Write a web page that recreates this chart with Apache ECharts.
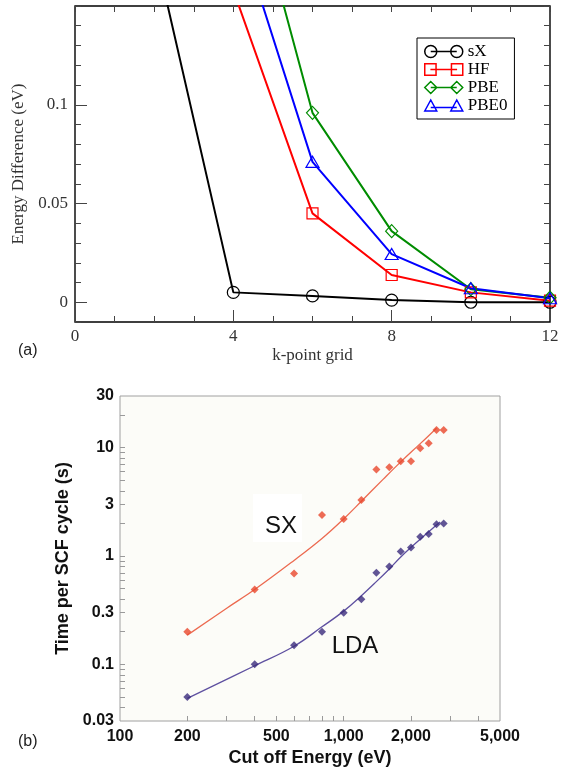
<!DOCTYPE html>
<html>
<head>
<meta charset="utf-8">
<script src="https://cdn.jsdelivr.net/npm/echarts@6/dist/echarts.min.js"></script>
<style>
html,body{margin:0;padding:0;background:#ffffff;}
#c{width:572px;height:773px;}
</style>
</head>
<body>
<div id="c"></div>
<script>
// ---------- Panel (a): k-point convergence ----------
const kPointsSX = [2, 4, 6, 8, 10, 12];
const energySX = [0.18, 0.005, 0.0032, 0.0011, 0.0, 0.0];
const kPoints = [4, 6, 8, 10, 12];
const energyHF = [0.158, 0.045, 0.0138, 0.005, 0.0008];
const energyPBE = [0.245, 0.0959, 0.036, 0.0066, 0.0023];
const energyPBE0 = [0.197, 0.0711, 0.0244, 0.0071, 0.002];
const aXLabels = [0, 4, 8, 12];
const aYLabels = [0, 0.05, 0.1];

// ---------- Panel (b): time per SCF cycle ----------
const cutoffEnergy = [200, 400, 600, 800, 1000, 1200, 1400, 1600, 1800, 2000, 2200, 2400, 2600, 2800];
const timeSX = [0.2, 0.49, 0.69, 2.39, 2.2, 3.29, 6.3, 6.6, 7.5, 7.5, 9.9, 11.0, 14.6, 14.6];
const timeLDA = [0.05, 0.1, 0.15, 0.2, 0.3, 0.4, 0.7, 0.8, 1.1, 1.2, 1.51, 1.6, 1.96, 2.0];
const fitSXEnergy = [200, 300, 400, 600, 800, 1000, 1200, 1500, 1800, 2200, 2600];
const fitSXTime = [0.186, 0.33, 0.49, 0.91, 1.45, 2.2, 3.2, 5.1, 7.4, 10.9, 15.1];
const fitLDAEnergy = [200, 400, 600, 800, 1000, 1200, 1400, 1600, 1800, 2200, 2600, 2700];
const fitLDATime = [0.0485, 0.097, 0.147, 0.222, 0.31, 0.43, 0.58, 0.76, 0.98, 1.43, 1.93, 2.06];
const bXLabels = [100, 200, 500, 1000, 2000, 5000];
const bXTicks = [200, 300, 400, 500, 600, 700, 800, 900, 1000, 2000, 3000, 4000];
const bYLabels = [0.03, 0.1, 0.3, 1, 3, 10, 30];
const bYTicks = [0.04, 0.05, 0.06, 0.07, 0.08, 0.09, 0.1, 0.2, 0.3, 0.4, 0.5, 0.6, 0.7, 0.8, 0.9,
                 1, 2, 3, 4, 5, 6, 7, 8, 9, 10, 20];

const serif = '"Liberation Serif", "Times New Roman", serif';
const sans = '"Liberation Sans", Arial, Helvetica, sans-serif';

function pairs(xs, ys) { return xs.map((x, i) => [x, ys[i]]); }
function commaFmt(v) {
  const n = Math.round(v);
  return n.toString().replace(/\B(?=(\d{3})+(?!\d))/g, ',');
}
function numFmt(v) { return String(Number(Number(v).toPrecision(3))); }

function seriesA(name, xs, ys, color, symbol, size) {
  return {
    name: name, type: 'line', xAxisIndex: 0, yAxisIndex: 0,
    data: pairs(xs, ys), symbol: symbol, symbolSize: size, showAllSymbol: true,
    clip: true, animation: false, z: 3,
    lineStyle: { color: color, width: 2 },
    itemStyle: { color: 'rgba(255,255,255,0)', borderColor: color, borderWidth: 1.2 },
    emphasis: { disabled: true }
  };
}

// legend glyphs: marker - line - marker (as in the original xmgrace legend)
const legendIcons = {
  sX: 'path://M6 6m-6 0a6 6 0 1 0 12 0a6 6 0 1 0 -12 0M32 6m-6 0a6 6 0 1 0 12 0a6 6 0 1 0 -12 0M6 6L32 6',
  HF: 'path://M0.5 0.5h11v11h-11zM26.5 0.5h11v11h-11zM6 6L32 6',
  PBE: 'path://M0 6L6 0L12 6L6 12ZM26 6L32 0L38 6L32 12ZM6 6L32 6',
  PBE0: 'path://M0 11.5L6 0.5L12 11.5ZM26 11.5L32 0.5L38 11.5ZM6 8L32 8'
};
const legendColors = { sX: '#000000', HF: '#ff0000', PBE: '#008c00', PBE0: '#0000ff' };
const legendNames = ['sX', 'HF', 'PBE', 'PBE0'];

const tickColA = '#444';
const tickColB = '#9a9a9a';

const option = {
  backgroundColor: '#ffffff',
  animation: false,
  grid: [
    { left: 75, top: 6, width: 475, height: 316, show: true, borderColor: '#000', borderWidth: 1.4,
      backgroundColor: 'transparent', outerBoundsMode: 'none', containLabel: false },
    { left: 120, top: 396, width: 380, height: 325, show: true, borderColor: '#a0a0a0', borderWidth: 1,
      backgroundColor: '#fcfcf8', outerBoundsMode: 'none', containLabel: false }
  ],
  legend: {
    data: legendNames.map(n => ({
      name: n, icon: legendIcons[n],
      itemStyle: { color: 'rgba(255,255,255,0)', borderColor: legendColors[n], borderWidth: 1.5 }
    })),
    orient: 'vertical', left: 417, top: 38,
    itemWidth: 38, itemHeight: 12, itemGap: 1,
    padding: [5, 7, 5, 7],
    borderColor: '#000', borderWidth: 1, backgroundColor: '#fff',
    selectedMode: false, symbolKeepAspect: true,
    textStyle: { fontFamily: serif, fontSize: 17, color: '#000' }
  },
  xAxis: [
    { gridIndex: 0, type: 'value', position: 'bottom', min: 0, max: 12, interval: 4,
      axisLine: { show: false, onZero: false },
      axisTick: { show: true, inside: true, length: 12, lineStyle: { color: tickColA, width: 1 } },
      minorTick: { show: true, splitNumber: 4, length: 6, lineStyle: { color: tickColA, width: 1 } },
      splitLine: { show: false }, minorSplitLine: { show: false },
      axisLabel: { customValues: aXLabels, fontFamily: serif, fontSize: 17, color: '#333', margin: 6 },
      name: 'k-point grid', nameLocation: 'middle', nameGap: 25,
      nameTextStyle: { fontFamily: serif, fontSize: 17, color: '#333' } },
    { gridIndex: 0, type: 'value', position: 'top', min: 0, max: 12, interval: 1,
      axisLine: { show: false, onZero: false },
      axisTick: { show: true, inside: true, length: 6, lineStyle: { color: tickColA, width: 1 } },
      axisLabel: { show: false }, splitLine: { show: false } },
    { gridIndex: 1, type: 'log', logBase: 10, position: 'bottom', min: 100, max: 5000,
      axisLine: { show: false, onZero: false },
      axisTick: { show: true, inside: true, length: 5, customValues: bXTicks, lineStyle: { color: tickColB, width: 1 } },
      minorTick: { show: false }, splitLine: { show: false },
      axisLabel: { customValues: bXLabels, formatter: function (v) { return commaFmt(v); },
        fontFamily: sans, fontWeight: 'bold', fontSize: 16, color: '#111', margin: 8 },
      name: 'Cut off Energy (eV)', nameLocation: 'middle', nameGap: 28,
      nameTextStyle: { fontFamily: sans, fontWeight: 'bold', fontSize: 18, color: '#111' } }
  ],
  yAxis: [
    { gridIndex: 0, type: 'value', position: 'left', min: -0.01, max: 0.15, interval: 0.01,
      axisLine: { show: false, onZero: false },
      axisTick: { show: true, inside: true, length: 6, lineStyle: { color: tickColA, width: 1 } },
      splitLine: { show: false },
      axisLabel: { customValues: aYLabels, fontFamily: serif, fontSize: 17, color: '#333', margin: 7 },
      name: 'Energy Difference (eV)', nameLocation: 'middle', nameGap: 43,
      nameTextStyle: { fontFamily: serif, fontSize: 17, color: '#333' } },
    { gridIndex: 0, type: 'value', position: 'left', min: -0.01, max: 0.15, interval: 0.01,
      axisLine: { show: false, onZero: false },
      axisTick: { show: true, inside: true, length: 12, customValues: aYLabels, lineStyle: { color: tickColA, width: 1 } },
      axisLabel: { show: false }, splitLine: { show: false } },
    { gridIndex: 0, type: 'value', position: 'right', min: -0.01, max: 0.15, interval: 0.01,
      axisLine: { show: false, onZero: false },
      axisTick: { show: true, inside: true, length: 6, lineStyle: { color: tickColA, width: 1 } },
      axisLabel: { show: false }, splitLine: { show: false } },
    { gridIndex: 1, type: 'log', logBase: 10, position: 'left', min: 0.03, max: 30,
      axisLine: { show: false, onZero: false },
      axisTick: { show: true, inside: true, length: 5, customValues: bYTicks, lineStyle: { color: tickColB, width: 1 } },
      minorTick: { show: false }, splitLine: { show: false },
      axisLabel: { customValues: bYLabels, formatter: function (v) { return numFmt(v); },
        fontFamily: sans, fontWeight: 'bold', fontSize: 16, color: '#111', margin: 6 },
      name: 'Time per SCF cycle (s)', nameLocation: 'middle', nameGap: 48,
      nameTextStyle: { fontFamily: sans, fontWeight: 'bold', fontSize: 18, color: '#111' } }
  ],
  series: [
    seriesA('sX', kPointsSX, energySX, '#000000', 'circle', 12),
    seriesA('HF', kPoints, energyHF, '#ff0000', 'rect', 11),
    seriesA('PBE', kPoints, energyPBE, '#008c00', 'diamond', [12, 13]),
    seriesA('PBE0', kPoints, energyPBE0, '#0000ff', 'triangle', [13, 11]),
    { name: 'SX fit', type: 'line', xAxisIndex: 2, yAxisIndex: 3, data: pairs(fitSXEnergy, fitSXTime),
      smooth: 0.4, symbol: 'none', showSymbol: false, silent: true, z: 1,
      lineStyle: { color: '#ec6a50', width: 1.3 } },
    { name: 'LDA fit', type: 'line', xAxisIndex: 2, yAxisIndex: 3, data: pairs(fitLDAEnergy, fitLDATime),
      smooth: 0.4, symbol: 'none', showSymbol: false, silent: true, z: 1,
      lineStyle: { color: '#5e50a0', width: 1.3 } },
    { name: 'SX', type: 'scatter', xAxisIndex: 2, yAxisIndex: 3, data: pairs(cutoffEnergy, timeSX),
      symbol: 'diamond', symbolSize: 8, z: 2, itemStyle: { color: '#e8462c' } },
    { name: 'LDA', type: 'scatter', xAxisIndex: 2, yAxisIndex: 3, data: pairs(cutoffEnergy, timeLDA),
      symbol: 'diamond', symbolSize: 8, z: 2, itemStyle: { color: '#3a2a7c' } }
  ],
  graphic: [
    { type: 'text', left: 18, top: 343, style: { text: '(a)', font: '16px ' + sans, fill: '#222' } },
    { type: 'text', left: 18, top: 734, style: { text: '(b)', font: '16px ' + sans, fill: '#222' } },
    { type: 'rect', z: 9, shape: { x: 253, y: 494, width: 49, height: 48 }, style: { fill: '#ffffff' }, silent: true },
    { type: 'text', x: 281, y: 526, z: 10,
      style: { text: 'SX', font: '24px ' + sans, fill: '#111', align: 'center', verticalAlign: 'middle' } },
    { type: 'text', x: 355, y: 646, z: 10,
      style: { text: 'LDA', font: '24px ' + sans, fill: '#111', align: 'center', verticalAlign: 'middle' } }
  ]
};

const chart = echarts.init(document.getElementById('c'), null, { renderer: 'canvas' });
chart.setOption(option);
</script>
</body>
</html>
